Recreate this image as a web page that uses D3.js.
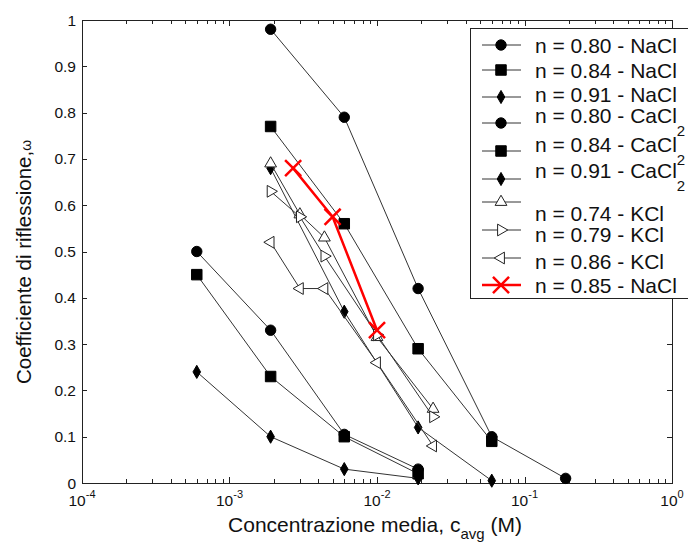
<!DOCTYPE html>
<html>
<head>
<meta charset="utf-8">
<script src="https://cdn.jsdelivr.net/npm/d3@7"></script>
<style>
  body { margin: 0; background: #fff; }
  text { font-family: "Liberation Sans", Arial, sans-serif; fill: #111; }
</style>
</head>
<body>
<div id="chart"></div>
<script>
// series, in legend order
const seriesLabels = [
    ['n = 0.80 - NaCl', ''],
    ['n = 0.84 - NaCl', ''],
    ['n = 0.91 - NaCl', ''],
    ['n = 0.80 - CaCl', '2'],
    ['n = 0.84 - CaCl', '2'],
    ['n = 0.91 - CaCl', '2'],
    ['n = 0.74 - KCl', ''],
    ['n = 0.79 - KCl', ''],
    ['n = 0.86 - KCl', ''],
    ['n = 0.85 - NaCl', '']
];

// concentrations c_avg (M)
const seriesConc = [
    [1.9e-3, 6e-3, 1.9e-2, 6e-2, 1.9e-1],
    [1.9e-3, 6e-3, 1.9e-2, 6e-2],
    [1.9e-3, 6e-3, 1.9e-2, 6e-2],
    [6e-4, 1.9e-3, 6e-3, 1.9e-2],
    [6e-4, 1.9e-3, 6e-3, 1.9e-2],
    [6e-4, 1.9e-3, 6e-3, 1.9e-2],
    [1.9e-3, 3e-3, 4.4e-3, 1e-2, 2.4e-2],
    [1.9e-3, 3e-3, 4.4e-3, 1e-2, 2.4e-2],
    [1.9e-3, 3e-3, 4.4e-3, 1e-2, 2.4e-2],
    [2.7e-3, 5e-3, 1e-2]
];

// reflection coefficient omega
const seriesOmega = [
    [0.98, 0.79, 0.42, 0.10, 0.01],
    [0.77, 0.56, 0.29, 0.09],
    [0.68, 0.37, 0.12, 0.005],
    [0.50, 0.33, 0.105, 0.03],
    [0.45, 0.23, 0.10, 0.02],
    [0.24, 0.10, 0.03, 0.01],
    [0.69, 0.58, 0.53, 0.315, 0.16],
    [0.63, 0.575, 0.49, 0.32, 0.143],
    [0.52, 0.42, 0.42, 0.26, 0.08],
    [0.68, 0.575, 0.33]
];

const yTicks = [0, 0.1, 0.2, 0.3, 0.4, 0.5, 0.6, 0.7, 0.8, 0.9, 1];
const xDecades = [-4, -3, -2, -1, 0];

// styles
const markerKind = ['circle', 'square', 'diamond', 'circle', 'square', 'diamond', 'up', 'right', 'left', 'x'];
const lineColor = ['#333', '#333', '#333', '#333', '#333', '#333', '#333', '#333', '#333', '#f00'];
const lineWidth = [1, 1, 1, 1, 1, 1, 1, 1, 1, 2.5];

const W = 688, H = 543;
const plot = { left: 82, right: 672, top: 20, bottom: 483 };

const x = d3.scaleLog().domain([1e-4, 1]).range([plot.left, plot.right]);
const y = d3.scaleLinear().domain([0, 1]).range([plot.bottom, plot.top]);

const svg = d3.select('#chart').append('svg')
    .attr('width', W)
    .attr('height', H);

function marker(sel, kind) {
    if (kind === 'circle') {
        sel.attr('d', d3.symbol().type(d3.symbolCircle).size(85)())
            .attr('fill', '#000').attr('stroke', '#000');
    } else if (kind === 'square') {
        sel.attr('d', d3.symbol().type(d3.symbolSquare).size(110)())
            .attr('fill', '#000').attr('stroke', '#000');
    } else if (kind === 'diamond') {
        sel.attr('d', d3.symbol().type(d3.symbolDiamond).size(50)())
            .attr('fill', '#000').attr('stroke', '#000');
    } else if (kind === 'x') {
        sel.attr('d', d3.symbol().type(d3.symbolX).size(170)())
            .attr('fill', 'none').attr('stroke', '#f00').attr('stroke-width', 2.5);
    } else {
        sel.attr('d', d3.symbol().type(d3.symbolTriangle).size(60)())
            .attr('fill', '#fff').attr('stroke', '#222').attr('stroke-width', 1);
    }
    return sel;
}

function rot(kind) {
    if (kind === 'right') return 90;
    if (kind === 'left') return -90;
    return 0;
}

// frame
svg.append('rect')
    .attr('x', plot.left + 0.5).attr('y', plot.top + 0.5)
    .attr('width', plot.right - plot.left).attr('height', plot.bottom - plot.top)
    .attr('fill', 'none').attr('stroke', '#222').attr('stroke-width', 1);

// x ticks (log, inside, mirrored on top)
const axes = svg.append('g').attr('stroke', '#222').attr('stroke-width', 1);
x.ticks().forEach(d => {
    const major = Math.abs(Math.log10(d) - Math.round(Math.log10(d))) < 1e-9;
    const len = major ? 6 : 4;
    const px = Math.round(x(d)) + 0.5;
    axes.append('line').attr('x1', px).attr('x2', px)
        .attr('y1', plot.bottom).attr('y2', plot.bottom - len);
    axes.append('line').attr('x1', px).attr('x2', px)
        .attr('y1', plot.top).attr('y2', plot.top + len);
});

// y ticks
yTicks.forEach(d => {
    const py = Math.round(y(d)) + 0.5;
    axes.append('line').attr('x1', plot.left).attr('x2', plot.left + 5)
        .attr('y1', py).attr('y2', py);
    axes.append('line').attr('x1', plot.right).attr('x2', plot.right - 5)
        .attr('y1', py).attr('y2', py);
});

// x tick labels 10^k
xDecades.forEach(k => {
    const t = svg.append('text')
        .attr('x', x(Math.pow(10, k)))
        .attr('y', 506)
        .attr('text-anchor', 'middle')
        .style('font-size', '15.5px');
    t.append('tspan').text('10');
    t.append('tspan').attr('dy', -8).style('font-size', '11px').text(String(k));
});

// y tick labels
yTicks.forEach(d => {
    svg.append('text')
        .attr('x', 76)
        .attr('y', y(d) + 5.5)
        .attr('text-anchor', 'end')
        .style('font-size', '15.5px')
        .text(String(d));
});

// axis titles
const xt = svg.append('text')
    .attr('x', 375).attr('y', 532)
    .attr('text-anchor', 'middle')
    .style('font-size', '21px');
xt.append('tspan').text('Concentrazione media, c');
xt.append('tspan').attr('dy', 7).style('font-size', '15px').text('avg');
xt.append('tspan').attr('dy', -7).text(' (M)');

const yt = svg.append('text')
    .attr('transform', 'translate(31,262) rotate(-90)')
    .attr('text-anchor', 'middle')
    .style('font-size', '20.5px');
yt.append('tspan').text('Coefficiente di riflessione,');
yt.append('tspan').style('font-size', '14px').text('ω');

// series
const lineFn = d3.line().x(d => x(d[0])).y(d => y(d[1]));
seriesConc.forEach((xs, i) => {
    const pts = xs.map((c, j) => [c, seriesOmega[i][j]]);
    const g = svg.append('g');
    g.append('path')
        .datum(pts)
        .attr('d', lineFn)
        .attr('fill', 'none')
        .attr('stroke', lineColor[i])
        .attr('stroke-width', lineWidth[i]);
    g.selectAll('path.m')
        .data(pts)
        .join('path')
        .attr('class', 'm')
        .attr('transform', d => `translate(${x(d[0])},${y(d[1])}) rotate(${rot(markerKind[i])})`)
        .call(marker, markerKind[i]);
});

// legend
const legendRowY = [45, 70, 97, 123, 151, 179, 202, 230, 258, 285];
const legendTextY = [45, 70, 94, 115, 144, 170, 213, 234, 261, 285];

const lg = svg.append('g');
lg.append('rect')
    .attr('x', 470.5).attr('y', 28.5)
    .attr('width', 240).attr('height', 270)
    .attr('fill', '#fff').attr('stroke', '#222').attr('stroke-width', 1);

seriesLabels.forEach((lab, i) => {
    const ry = legendRowY[i];
    lg.append('line')
        .attr('x1', 482).attr('x2', 521)
        .attr('y1', ry).attr('y2', ry)
        .attr('stroke', lineColor[i])
        .attr('stroke-width', lineWidth[i]);
    lg.append('path')
        .attr('transform', `translate(501,${ry}) rotate(${rot(markerKind[i])})`)
        .call(marker, markerKind[i]);
    const t = lg.append('text')
        .attr('x', 535)
        .attr('y', legendTextY[i] + 7.5)
        .style('font-size', '21px');
    t.append('tspan').text(lab[0]);
    if (lab[1]) {
        t.append('tspan').attr('dy', 13).style('font-size', '15px').text(lab[1]);
    }
});
</script>
</body>
</html>
